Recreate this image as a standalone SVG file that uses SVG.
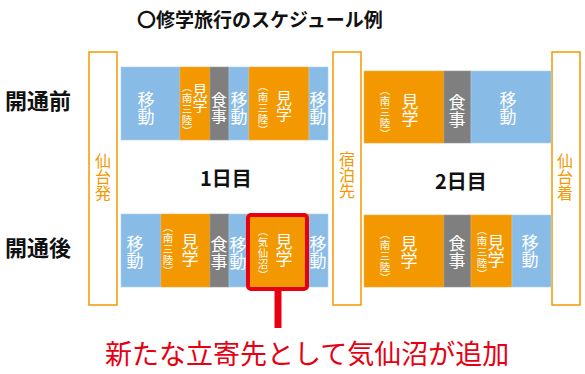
<svg xmlns="http://www.w3.org/2000/svg" width="585" height="374" viewBox="0 0 585 374">
<style>
text{font-family:"Noto Sans CJK JP","Noto Sans",sans-serif}
.t{font-size:19px;font-weight:bold;fill:#111}
.h{font-size:22px;font-weight:bold;fill:#111}
.d{font-size:20px;font-weight:bold;fill:#111}
.frame{fill:#fff;stroke:#F39800;stroke-width:1.5}
.vo{font-size:16px;fill:#F39800;writing-mode:vertical-rl;text-anchor:middle}
.mv{fill:#88BCE6;stroke:#A9D0F0;stroke-width:0.6}
.vs{fill:#F39800;stroke:#F7B040;stroke-width:0.6}
.ml{fill:#7F7F7F;stroke:#999;stroke-width:0.6}
.w{font-size:16px;fill:#fff;writing-mode:vertical-rl;text-anchor:middle}
.s{font-size:10.5px;fill:#fff;writing-mode:vertical-rl;text-anchor:middle;letter-spacing:0.5px}
.red{fill:#E60012}
</style>
<text class="t" x="137" y="27">〇修学旅行のスケジュール例</text>
<text class="h" x="5" y="109">開通前</text>
<text class="h" x="5" y="256">開通後</text>
<text class="d" x="200" y="186">1日目</text>
<text class="d" x="435" y="189">2日目</text>

<g id="start">
<rect class="frame" x="89" y="52" width="28" height="253"/>
<text class="vo" x="103" y="177">仙台発</text>
</g>
<g id="stay">
<rect class="frame" x="333" y="52" width="28" height="253"/>
<text class="vo" x="347" y="175">宿泊先</text>
</g>
<g id="arrive">
<rect class="frame" x="552" y="52" width="28" height="253"/>
<text class="vo" x="565" y="177">仙台着</text>
</g>

<g id="before-day1">
<rect class="mv" x="121" y="67" width="59" height="73"/>
<text class="w" x="146" y="108" style="font-size:17px">移動</text>
<rect class="vs" x="180" y="67" width="30" height="73"/>
<text class="s" x="187" y="109">（南三陸）</text>
<text class="w" x="200" y="98" style="font-size:15px">見学</text>
<rect class="ml" x="210" y="67" width="19" height="73"/>
<text class="w" x="219" y="108">食事</text>
<rect class="mv" x="229" y="67" width="20" height="73"/>
<text class="w" x="239" y="108" style="font-size:17px">移動</text>
<rect class="vs" x="249" y="67" width="60" height="73"/>
<text class="s" x="263" y="108">（南三陸）</text>
<text class="w" x="284" y="106">見学</text>
<rect class="mv" x="309" y="67" width="19" height="73"/>
<text class="w" x="318" y="108" style="font-size:17px">移動</text>
</g>

<g id="before-day2">
<rect class="vs" x="364" y="71" width="80" height="72"/>
<text class="s" x="385" y="112">（南三陸）</text>
<text class="w" x="410" y="110" style="font-size:17px">見学</text>
<rect class="ml" x="444" y="71" width="27" height="72"/>
<text class="w" x="457" y="111" style="font-size:17px">食事</text>
<rect class="mv" x="471" y="71" width="80" height="72"/>
<text class="w" x="508" y="108" style="font-size:17px">移動</text>
</g>

<g id="after-day1">
<rect class="mv" x="121" y="214" width="40" height="73"/>
<text class="w" x="135" y="252" style="font-size:17px">移動</text>
<rect class="vs" x="161" y="214" width="49" height="73"/>
<text class="s" x="168" y="249">（南三陸）</text>
<text class="w" x="190" y="250" style="font-size:17px">見学</text>
<rect class="ml" x="210" y="214" width="19" height="73"/>
<text class="w" x="219" y="253" style="font-size:17px">食事</text>
<rect class="mv" x="229" y="214" width="18" height="73"/>
<text class="w" x="238" y="253" style="font-size:17px">移動</text>
<rect class="vs" x="247" y="214" width="62" height="73"/>
<text class="s" x="263" y="253">（気仙沼）</text>
<text class="w" x="284" y="250" style="font-size:17px">見学</text>
<rect class="mv" x="309" y="214" width="19" height="73"/>
<text class="w" x="318" y="252" style="font-size:17px">移動</text>
</g>

<g id="after-day2">
<rect class="vs" x="364" y="215" width="80" height="72"/>
<text class="s" x="385" y="256">（南三陸）</text>
<text class="w" x="409" y="252" style="font-size:17px">見学</text>
<rect class="ml" x="444" y="215" width="27" height="72"/>
<text class="w" x="457" y="252" style="font-size:17px">食事</text>
<rect class="vs" x="471" y="215" width="41" height="72"/>
<text class="s" x="482" y="252">（南三陸）</text>
<text class="w" x="496" y="251" style="font-size:17px">見学</text>
<rect class="mv" x="512" y="215" width="39" height="72"/>
<text class="w" x="530" y="251" style="font-size:17px">移動</text>
</g>

<g id="connectors">
<rect x="248" y="215" width="59" height="74" rx="3" fill="none" stroke="#E60012" stroke-width="4"/>
<line x1="278" y1="291" x2="278" y2="328" stroke="#E60012" stroke-width="7"/>
</g>

<g id="note">
<text class="red" x="105" y="364" style="font-size:27px">新たな立寄先として気仙沼が追加</text>
</g>
</svg>
